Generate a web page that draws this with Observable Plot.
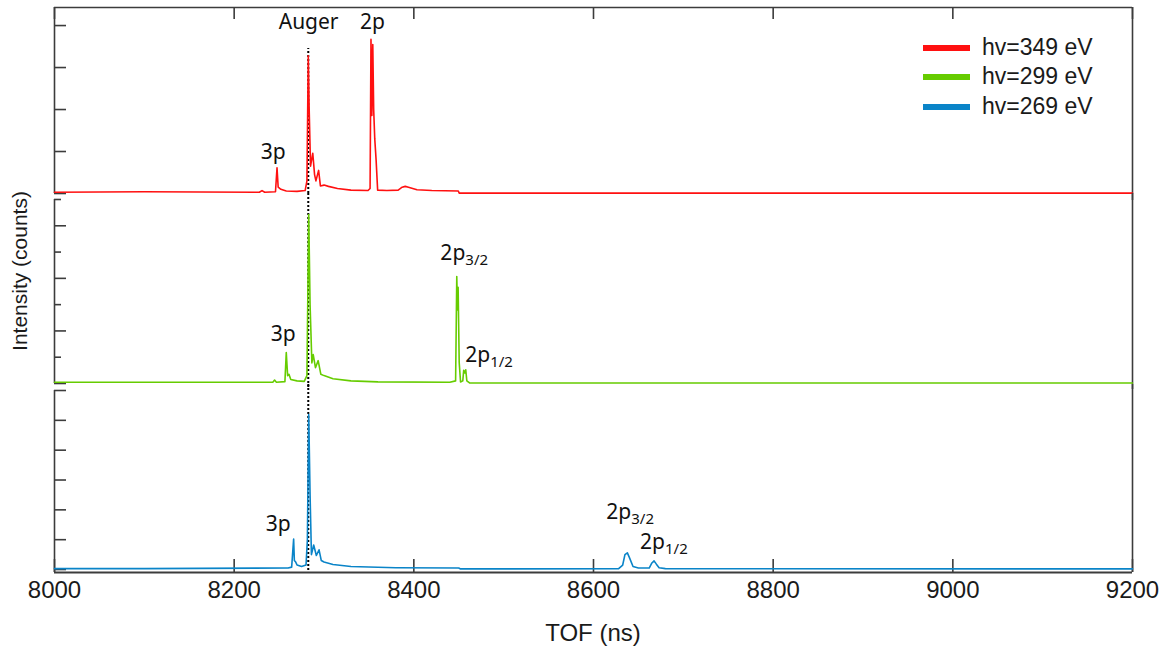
<!DOCTYPE html>
<html><head><meta charset="utf-8">
<script src="https://cdn.jsdelivr.net/npm/d3@7"></script>
<script src="https://cdn.jsdelivr.net/npm/@observablehq/plot@0.6"></script>
<style>
body{margin:0;background:#fff;}
#chart{position:relative;width:1166px;height:651px;overflow:hidden;background:#fff;font-family:"Liberation Sans",Arial,sans-serif;color:#1a1a1a;}
#chart svg{position:absolute;left:0;}
.lg-line{position:absolute;left:923px;width:47px;height:6px;}
.lg-text{position:absolute;left:982px;font-size:23px;line-height:24px;white-space:nowrap;}
.axis-title{position:absolute;font-size:24px;white-space:nowrap;}
</style></head><body>
<div id="chart"></div>
<script>
// ---------- data ----------
const xTicks = [8000, 8200, 8400, 8600, 8800, 9000, 9200];
const xTickLabels = ["8000", "8200", "8400", "8600", "8800", "9000", "9200"];
const seriesNames = ["hv=349 eV", "hv=299 eV", "hv=269 eV"];
const augerTof = 8282.5;

// hv = 349 eV (top panel)
const tof349 = [8000, 8100, 8228, 8231, 8234, 8246, 8247.7, 8249, 8252, 8258, 8270, 8279, 8281, 8282.5, 8283.5, 8285, 8287.5, 8289.5, 8291, 8294, 8296, 8300, 8305, 8315, 8330, 8349, 8351.3, 8352.3, 8353.3, 8354.3, 8355.3, 8356.5, 8358, 8359.7, 8370, 8382.6, 8387, 8390.4, 8394, 8403.5, 8420, 8449.5, 8450.5, 8600, 9200];
const int349 = [0.03, 0.04, 0.03, 0.07, 0.03, 0.04, 0.61, 0.15, 0.10, 0.06, 0.05, 0.07, 0.30, 3.28, 2.00, 0.65, 0.96, 0.45, 0.30, 0.55, 0.18, 0.20, 0.17, 0.12, 0.08, 0.07, 0.12, 3.67, 1.86, 3.55, 2.00, 1.30, 0.80, 0.08, 0.07, 0.08, 0.15, 0.17, 0.15, 0.09, 0.07, 0.06, 0.01, 0.01, 0.01];

// hv = 299 eV (middle panel)
const tof299 = [8000, 8100, 8243, 8245, 8247, 8256.5, 8258, 8259.5, 8261, 8263, 8270, 8278, 8281, 8283, 8284.5, 8286.5, 8288, 8290.5, 8293.5, 8296.5, 8300, 8310, 8330, 8360, 8440, 8446.5, 8447.8, 8448.6, 8449.3, 8450.5, 8452, 8454.5, 8455.5, 8456.7, 8457.8, 8459, 8462, 8600, 9200];
const int299 = [0.05, 0.05, 0.05, 0.13, 0.05, 0.07, 1.18, 0.30, 0.35, 0.15, 0.10, 0.08, 0.30, 6.43, 3.00, 0.78, 1.10, 0.60, 0.87, 0.35, 0.30, 0.18, 0.10, 0.06, 0.05, 0.10, 4.07, 2.80, 3.66, 0.80, 0.06, 0.10, 0.50, 0.40, 0.52, 0.10, 0.02, 0.02, 0.02];

// hv = 269 eV (bottom panel)
const tof269 = [8000, 8100, 8260, 8264, 8266.2, 8267, 8268.5, 8270, 8275, 8280, 8281.5, 8283, 8284.5, 8286, 8288.5, 8291.5, 8294.5, 8297, 8300, 8310, 8330, 8380, 8450, 8452, 8628, 8632.5, 8635, 8637.7, 8640, 8644, 8650, 8662, 8665, 8667.4, 8670, 8673, 8680, 9200];
const int269 = [0.03, 0.03, 0.05, 0.08, 1.02, 0.30, 0.25, 0.15, 0.10, 0.15, 1.00, 5.19, 2.50, 0.50, 0.82, 0.47, 0.66, 0.30, 0.25, 0.17, 0.10, 0.06, 0.05, 0.02, 0.03, 0.15, 0.50, 0.56, 0.40, 0.10, 0.05, 0.05, 0.22, 0.29, 0.18, 0.06, 0.03, 0.02];

// peak annotations (text, subscript, TOF anchor, intensity anchor)
const labels349 = [
  {text: "Auger", sub: "", x: 8282.9, y: 4.08},
  {text: "2p", sub: "", x: 8354, y: 4.08},
  {text: "3p", sub: "", x: 8243.5, y: 0.98}
];
const labels299 = [
  {text: "3p", sub: "", x: 8254.7, y: 1.86},
  {text: "2p", sub: "3/2", x: 8457.3, y: 4.94},
  {text: "2p", sub: "1/2", x: 8485, y: 1.06}
];
const labels269 = [
  {text: "3p", sub: "", x: 8249, y: 1.52},
  {text: "2p", sub: "3/2", x: 8642, y: 1.91},
  {text: "2p", sub: "1/2", x: 8679.6, y: 0.91}
];

// ---------- styles / layout ----------
const colors = ["#ff1010", "#66cc00", "#0a84c8"];
const axisColor = "#3c3c3c";
const W = 1166, ML = 54, MR = 34;
const FW = W - ML - MR;
const labelFont = "'Noto Sans', 'Open Sans', sans-serif";

const zip = (xs, ys) => xs.map((x, i) => ({x, y: ys[i]}));

function labelMarks(labels) {
  const plain = labels.filter(d => !d.sub);
  const withSub = labels.filter(d => d.sub);
  return [
    Plot.text(plain, {x: "x", y: "y", text: "text", fontSize: 21, fontFamily: labelFont, fill: "#111", textAnchor: "middle"}),
    Plot.text(withSub, {x: "x", y: "y", text: "text", fontSize: 21, fontFamily: labelFont, fill: "#111", textAnchor: "end"}),
    Plot.text(withSub, {x: "x", y: "y", text: "sub", fontSize: 15, fontFamily: labelFont, fill: "#111", textAnchor: "start", dy: 7})
  ];
}

function panel({data, color, yDomain, yMajor, yMinor, top, height, mt, mb, labels, augerTop, frameTop, frameBottom, extTop, extBottom}) {
  const FH = height - mt - mb;
  const marks = [
    Plot.ruleX([8000], {stroke: axisColor, strokeWidth: 1.6}),
    Plot.ruleX([9200], {stroke: axisColor, strokeWidth: 1.6, insetTop: -extTop, insetBottom: -extBottom}),
    Plot.ruleY(yMajor, {stroke: axisColor, strokeWidth: 1.6, insetRight: FW - 12}),
    Plot.ruleY(yMinor, {stroke: axisColor, strokeWidth: 1.6, insetRight: FW - 7})
  ];
  if (frameTop) {
    marks.push(Plot.ruleY([yDomain[1]], {stroke: axisColor, strokeWidth: 1.6}));
    marks.push(Plot.ruleX(xTicks, {stroke: axisColor, strokeWidth: 1.6, insetBottom: FH - 12}));
  }
  if (frameBottom) {
    marks.push(Plot.ruleY([yDomain[0]], {stroke: axisColor, strokeWidth: 1.8}));
    marks.push(Plot.ruleX(xTicks, {stroke: axisColor, strokeWidth: 1.6, insetTop: FH - 13}));
    marks.push(Plot.axisX(xTicks, {tickSize: 0, tickPadding: 8, fontSize: 24, fill: "#1a1a1a",
      fontFamily: "'Liberation Sans', Arial, sans-serif", tickFormat: (d, i) => xTickLabels[i], label: null}));
  }
  if (augerTop != null) {
    marks.push(Plot.ruleX([augerTof], {y1: yDomain[0], y2: augerTop, stroke: "#000", strokeWidth: 2, strokeDasharray: "2,2", insetBottom: -extBottom}));
  } else {
    marks.push(Plot.ruleX([augerTof], {stroke: "#000", strokeWidth: 2, strokeDasharray: "2,2", insetTop: -extTop, insetBottom: -extBottom}));
  }
  marks.push(Plot.line(data, {x: "x", y: "y", stroke: color, strokeWidth: 1.6}));
  marks.push(...labelMarks(labels));
  const svg = Plot.plot({
    width: W, height, marginLeft: ML, marginRight: MR, marginTop: mt, marginBottom: mb,
    x: {domain: [8000, 9200], axis: null},
    y: {domain: yDomain, axis: null},
    style: {background: "transparent", overflow: "visible"},
    marks
  });
  svg.style.top = top + "px";
  return svg;
}

const chart = document.getElementById("chart");
chart.appendChild(panel({data: zip(tof349, int349), color: colors[0], yDomain: [0, 4.43],
  yMajor: [0, 1, 2, 3, 4], yMinor: [], top: 0, height: 200, mt: 7, mb: 7,
  labels: labels349, augerTop: 3.62, frameTop: true, frameBottom: false, extTop: 0, extBottom: 7}));
chart.appendChild(panel({data: zip(tof299, int299), color: colors[1], yDomain: [0, 7],
  yMajor: [0, 2, 4, 6], yMinor: [1, 3, 5, 7], top: 193, height: 196, mt: 6, mb: 6,
  labels: labels299, augerTop: null, frameTop: false, frameBottom: false, extTop: 6, extBottom: 6}));
chart.appendChild(panel({data: zip(tof269, int269), color: colors[2], yDomain: [-0.1, 6.0],
  yMajor: [0, 1, 2, 3, 4, 5, 6], yMinor: [], top: 383, height: 268, mt: 7, mb: 79,
  labels: labels269, augerTop: null, frameTop: false, frameBottom: true, extTop: 6, extBottom: 0}));

// legend
const legendY = [48, 77, 107];
seriesNames.forEach((name, i) => {
  const ln = document.createElement("div");
  ln.className = "lg-line";
  ln.style.top = (legendY[i] - 3) + "px";
  ln.style.background = colors[i];
  chart.appendChild(ln);
  const tx = document.createElement("div");
  tx.className = "lg-text";
  tx.style.top = (legendY[i] - 13) + "px";
  tx.textContent = name;
  chart.appendChild(tx);
});

// axis titles
const xt = document.createElement("div");
xt.className = "axis-title";
xt.textContent = "TOF (ns)";
xt.style.left = "593px"; xt.style.top = "633px";
xt.style.transform = "translate(-50%, -50%)";
chart.appendChild(xt);
const yt = document.createElement("div");
yt.className = "axis-title";
yt.textContent = "Intensity (counts)";
yt.style.fontSize = "21px";
yt.style.left = "20px"; yt.style.top = "271px";
yt.style.transform = "translate(-50%, -50%) rotate(-90deg)";
chart.appendChild(yt);
</script>
</body></html>
